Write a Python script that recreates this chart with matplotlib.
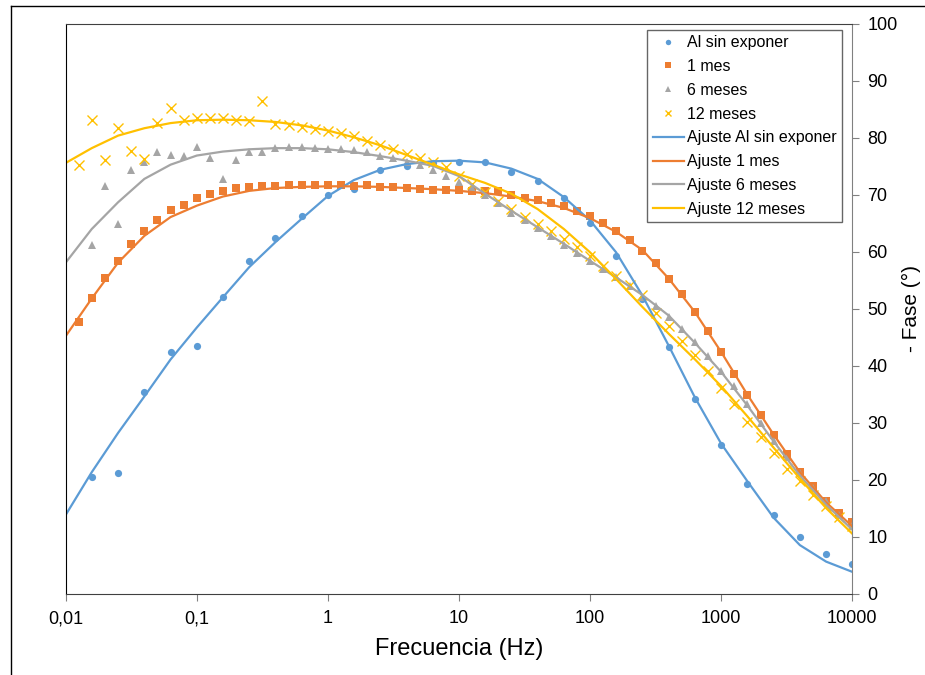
import matplotlib
matplotlib.use("Agg")
import matplotlib.pyplot as plt
from matplotlib.lines import Line2D

plt.rcParams['font.family'] = ['Liberation Sans', 'DejaVu Sans']

# frequencies, 10 points per decade (Hz)
freq = [0.0126, 0.0158, 0.02, 0.0251, 0.0316, 0.0398, 0.0501, 0.0631, 0.0794, 0.1,
        0.126, 0.158, 0.2, 0.251, 0.316, 0.398, 0.501, 0.631, 0.794, 1.0,
        1.26, 1.58, 2.0, 2.51, 3.16, 3.98, 5.01, 6.31, 7.94, 10.0,
        12.6, 15.8, 20.0, 25.1, 31.6, 39.8, 50.1, 63.1, 79.4, 100.0,
        126, 158, 200, 251, 316, 398, 501, 631, 794, 1000,
        1259, 1585, 1995, 2512, 3162, 3981, 5012, 6310, 7943, 10000]

# Al sin exponer: 5 points per decade
freq_al = freq[1::2]
fase_al = [20.5, 21.2, 35.4, 42.4, 43.5, 52.1, 58.4, 62.5, 66.3, 70.0,
           71.1, 74.4, 75.1, 75.6, 75.7, 75.7, 74.1, 72.5, 69.4, 65.0,
           59.3, 51.7, 43.2, 34.2, 26.0, 19.2, 13.8, 9.9, 7.0, 5.2]

fase_1m = [47.7, 51.8, 55.4, 58.3, 61.3, 63.6, 65.6, 67.3, 68.3, 69.4,
           70.1, 70.6, 71.2, 71.3, 71.5, 71.5, 71.7, 71.7, 71.7, 71.7,
           71.7, 71.6, 71.7, 71.4, 71.3, 71.2, 71.0, 70.9, 70.9, 70.9,
           70.6, 70.6, 70.6, 69.9, 69.4, 69.1, 68.6, 68.0, 67.2, 66.2,
           65.1, 63.7, 62.1, 60.1, 58.0, 55.3, 52.6, 49.4, 46.1, 42.4,
           38.6, 34.9, 31.3, 27.9, 24.5, 21.4, 18.8, 16.3, 14.1, 12.5]

# 6 meses starts one step later
freq_6m = freq[1:]
fase_6m = [61.2, 71.5, 64.9, 74.4, 75.7, 77.5, 77.0, 76.8, 78.4,
           76.4, 72.8, 76.2, 77.6, 77.6, 78.2, 78.4, 78.4, 78.2, 78.1,
           78.1, 77.8, 77.5, 76.9, 76.4, 75.8, 75.3, 74.4, 73.3, 72.2,
           71.2, 70.0, 68.6, 66.9, 65.5, 64.1, 62.7, 61.2, 59.8, 58.4,
           57.0, 55.5, 54.0, 52.0, 50.5, 48.6, 46.5, 44.2, 41.7, 39.0,
           36.4, 33.2, 30.0, 26.7, 23.9, 21.2, 18.5, 16.2, 13.8, 11.8]

fase_12m = [75.3, 83.2, 76.2, 81.8, 77.7, 76.3, 82.7, 85.2, 83.1, 83.5,
            83.5, 83.5, 83.2, 82.9, 86.4, 82.5, 82.3, 82.0, 81.6, 81.2,
            80.8, 80.3, 79.4, 78.7, 78.0, 77.2, 76.4, 75.7, 74.9, 73.3,
            71.9, 70.5, 69.0, 67.5, 66.1, 64.9, 63.7, 62.2, 60.8, 59.3,
            57.5, 55.8, 54.2, 52.5, 49.3, 46.9, 44.3, 41.8, 39.0, 36.1,
            33.2, 30.2, 27.5, 24.7, 21.9, 19.7, 17.3, 15.3, 13.5, 11.9]

# fitted curves, read every 0.2 decade
freq_fit = [0.01] + freq[1::2]
ajuste_al = [13.8, 21.3, 28.2, 34.6, 41.1, 46.7, 52.0, 57.3, 61.7, 65.8,
             69.8, 72.6, 74.4, 75.4, 75.9, 76.0, 75.7, 74.6, 72.8, 69.6,
             65.5, 59.9, 52.3, 43.5, 34.4, 26.3, 19.7, 13.3, 8.5, 5.6, 3.8]
ajuste_1m = [45.2, 51.8, 58.1, 62.8, 66.1, 68.1, 69.7, 70.7, 71.2, 71.4,
             71.5, 71.5, 71.4, 71.2, 71.0, 70.7, 70.3, 69.7, 68.9, 67.7,
             65.9, 63.5, 60.3, 55.3, 49.4, 42.4, 34.9, 27.9, 21.3, 16.0, 11.8]
ajuste_6m = [58.1, 64.0, 68.7, 72.8, 75.3, 76.9, 77.6, 78.0, 78.2, 78.2,
             78.0, 77.5, 76.8, 76.0, 75.1, 73.3, 70.2, 67.2, 64.3, 61.4,
             58.4, 55.5, 52.4, 48.8, 44.0, 38.9, 33.0, 26.7, 20.7, 15.6, 11.2]
ajuste_12m = [75.6, 78.2, 80.4, 81.7, 82.6, 83.1, 83.2, 83.1, 82.8, 82.2,
              81.3, 80.1, 78.7, 77.0, 75.3, 73.6, 72.1, 70.2, 67.5, 64.0,
              59.9, 55.2, 50.3, 45.6, 41.1, 36.4, 31.1, 25.6, 20.2, 15.0, 10.5]

x_ticks = [0.01, 0.1, 1, 10, 100, 1000, 10000]
x_labels = ["0,01", "0,1", "1", "10", "100", "1000", "10000"]
y_ticks = list(range(0, 101, 10))

blue, orange, gray, yellow = "#5B9BD5", "#ED7D31", "#A5A5A5", "#FFC000"

fig = plt.figure(figsize=(9.25, 6.75), dpi=100)
ax = fig.add_axes([65.7 / 925, 1 - 593.5 / 675, 786.6 / 925, 569.5 / 675])

ax.plot(freq_al, fase_al, "o", color=blue, ms=5.2, mew=0, label="Al sin exponer")
ax.plot(freq, fase_1m, "s", color=orange, ms=5.4, mew=0, label="1 mes")
ax.plot(freq_6m, fase_6m, "^", color=gray, ms=6.2, mew=0, label="6 meses")
ax.plot(freq, fase_12m, "x", color=yellow, ms=6.5, mew=1, label="12 meses")

ax.plot(freq_fit, ajuste_al, color=blue, lw=1.6, label="Ajuste Al sin exponer")
ax.plot(freq_fit, ajuste_1m, color=orange, lw=1.6, label="Ajuste 1 mes")
ax.plot(freq_fit, ajuste_6m, color=gray, lw=1.6, label="Ajuste 6 meses")
ax.plot(freq_fit, ajuste_12m, color=yellow, lw=1.6, label="Ajuste 12 meses")

ax.set_xscale("log")
ax.set_xlim(0.01, 10000)
ax.set_ylim(0, 100)
ax.set_xticks(x_ticks)
ax.set_xticklabels(x_labels)
ax.minorticks_off()
ax.yaxis.tick_right()
ax.yaxis.set_label_position("right")
ax.set_yticks(y_ticks)
ax.tick_params(axis="both", labelsize=13, color="#808080", length=5, direction="out")
ax.tick_params(axis="x", pad=7)
ax.tick_params(axis="y", pad=6)

ax.set_xlabel("Frecuencia (Hz)", fontsize=17, labelpad=8)
ax.set_ylabel("- Fase (°)", fontsize=15, labelpad=3)

ax.spines["left"].set_color("black")
ax.spines["top"].set_color("#404040")
ax.spines["bottom"].set_color("#404040")
ax.spines["right"].set_color("#808080")

leg = ax.legend(loc="upper right", bbox_to_anchor=(0.987, 0.99), borderaxespad=0,
                fontsize=11.5, frameon=True, fancybox=False, edgecolor="#404040",
                handlelength=2.0, handletextpad=0.15, labelspacing=0.55,
                borderpad=0.35, markerscale=0.75)
leg.get_frame().set_linewidth(1.0)

# outer frame of the picture
fig.add_artist(Line2D([11 / 925, 11 / 925], [0, 1 - 6 / 675], color="black", lw=1))
fig.add_artist(Line2D([11 / 925, 1], [1 - 6 / 675, 1 - 6 / 675], color="black", lw=1))

fig.savefig("out.png", dpi=100)
